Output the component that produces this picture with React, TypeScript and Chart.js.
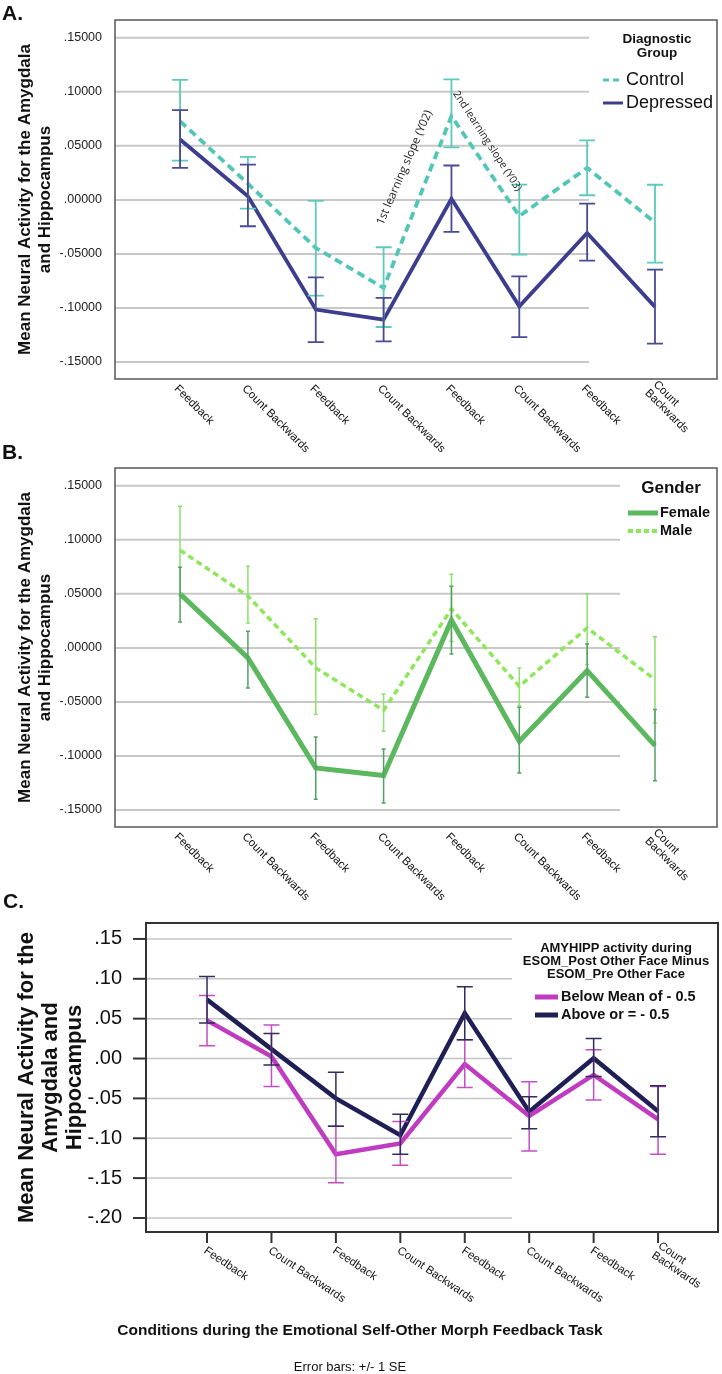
import React, { useEffect, useRef } from "react";
import { Chart, registerables } from "chart.js";

Chart.register(...registerables);

// ---------------- data ----------------
const xLabels: string[][] = [
  ["Feedback"],
  ["Count Backwards"],
  ["Feedback"],
  ["Count Backwards"],
  ["Feedback"],
  ["Count Backwards"],
  ["Feedback"],
  ["Count", "Backwards"],
];

const yTicksAB = [-0.15, -0.1, -0.05, 0, 0.05, 0.1, 0.15];
const yTicksC = [-0.2, -0.15, -0.1, -0.05, 0, 0.05, 0.1, 0.15];

// Panel A – Diagnostic Group
const controlMean = [0.0728, 0.015, -0.0444, -0.0815, 0.0775, -0.015, 0.0296, -0.021];
const controlHi = [0.111, 0.0398, -0.001, -0.0438, 0.1114, 0.0142, 0.055, 0.014];
const controlLo = [0.0364, -0.008, -0.0886, -0.1176, 0.0485, -0.0506, 0.0043, -0.058];
const depressedMean = [0.0559, 0.0034, -0.1015, -0.1108, 0.001, -0.0985, -0.0306, -0.099];
const depressedHi = [0.083, 0.0327, -0.0716, -0.0907, 0.0318, -0.0707, -0.0034, -0.0645];
const depressedLo = [0.0296, -0.0244, -0.1315, -0.1309, -0.0296, -0.1269, -0.0562, -0.133];

// Panel B – Gender
const femaleMean = [0.05, -0.0093, -0.111, -0.118, 0.0256, -0.0864, -0.021, -0.0904];
const femaleHi = [0.0747, 0.0154, -0.0824, -0.0935, 0.057, -0.055, 0.0037, -0.057];
const femaleLo = [0.024, -0.037, -0.14, -0.1435, -0.0056, -0.1157, -0.0457, -0.1228];
const maleMean = [0.0904, 0.048, -0.0185, -0.0577, 0.036, -0.0355, 0.0185, -0.0293];
const maleHi = [0.131, 0.0756, 0.027, -0.0426, 0.068, -0.0185, 0.05, 0.0102];
const maleLo = [0.05, 0.023, -0.0617, -0.0772, 0.006, -0.0535, -0.0154, -0.0694];

// Panel C – AMYHIPP activity groups
const belowMean = [0.0479, 0.0025, -0.12, -0.1066, -0.007, -0.072, -0.0206, -0.0764];
const belowHi = [0.079, 0.042, -0.085, -0.079, 0.0235, -0.029, 0.011, -0.035];
const belowLo = [0.016, -0.035, -0.1557, -0.134, -0.0365, -0.116, -0.052, -0.12];
const aboveMean = [0.0739, 0.0118, -0.05, -0.0962, 0.057, -0.0667, 0.0004, -0.066];
const aboveHi = [0.103, 0.0315, -0.0172, -0.07, 0.09, -0.048, 0.025, -0.034];
const aboveLo = [0.0445, -0.008, -0.085, -0.12, 0.0235, -0.088, -0.0227, -0.098];

// ---------------- styling / layout ----------------
const SANS = '"Liberation Sans", Arial, Helvetica, sans-serif';
const OPEN = '"Open Sans", "Noto Sans", sans-serif';
const W = 722;

const fmt5 = (v: number) => Number(v).toFixed(5).replace(/^(-?)0\./, "$1.");
const fmt2 = (v: number) => Number(v).toFixed(2).replace(/^(-?)0\./, "$1.");

type Series = {
  label: string;
  mean: number[];
  hi: number[];
  lo: number[];
  color: string;
  width: number;
  dash?: number[];
  errColor: string;
  errWidth: number;
  legendWidth: number;
  legendDash?: number[];
};

type Panel = any;

const panels: Panel[] = [
  {
    top: 0,
    height: 470,
    box: { l: 115, t: 20, r: 717, b: 379 },
    xMin: -0.959,
    xMax: 7.914,
    yMin: -0.1657,
    yMax: 0.1664,
    yTicks: yTicksAB,
    fmt: fmt5,
    tickFont: { family: SANS, size: 12.5 },
    tickColor: "#222",
    tickPad: 5,
    yTickLen: 0,
    xTickLen: 0,
    yTitle: ["Mean Neural Activity for the Amygdala", "and Hippocampus"],
    yTitleFont: { family: SANS, size: 17, weight: "bold", lineHeight: 20 / 17 },
    yTitlePad: 15,
    gridEnd: 589,
    gridColor: "#c8c8c8",
    gridWidth: 2,
    boxColor: "#555",
    boxWidth: 1.5,
    cap: 8,
    lbl: { font: "11.5px " + SANS, angle: 45, dx: -4, dy: 8, lh: 12 },
    tag: { text: "A.", x: 2, y: 14, font: "bold 21px " + SANS },
    legend: {
      title: ["Diagnostic", "Group"],
      titleFont: "bold 13.5px " + SANS,
      titleX: 657,
      titleY: 39,
      titleLH: 14,
      itemY: [80, 103],
      sx1: 603,
      sx2: 623,
      tx: 626,
      itemFont: "18px " + SANS,
    },
    notes: [
      { text: "1st learning slope (Y02)", xv: 2.99, yv: -0.024, angle: -66.6, font: "11.5px " + OPEN },
      { text: "2nd learning slope (Y03)", xv: 4.02, yv: 0.0985, angle: 57, font: "10.5px " + OPEN },
    ],
    footer: [],
    series: [
      {
        label: "Control",
        mean: controlMean, hi: controlHi, lo: controlLo,
        color: "#52c6b6", width: 3.8, dash: [8, 5],
        errColor: "#5ccabc", errWidth: 1.8,
        legendWidth: 3, legendDash: [6, 4],
      },
      {
        label: "Depressed",
        mean: depressedMean, hi: depressedHi, lo: depressedLo,
        color: "#3d3d8e", width: 3.8,
        errColor: "#4a4a95", errWidth: 1.8,
        legendWidth: 3,
      },
    ] as Series[],
  },
  {
    top: 440,
    height: 470,
    box: { l: 115, t: 468, r: 717, b: 827 },
    xMin: -0.959,
    xMax: 7.914,
    yMin: -0.1657,
    yMax: 0.1664,
    yTicks: yTicksAB,
    fmt: fmt5,
    tickFont: { family: SANS, size: 12.5 },
    tickColor: "#222",
    tickPad: 5,
    yTickLen: 0,
    xTickLen: 0,
    yTitle: ["Mean Neural Activity for the Amygdala", "and Hippocampus"],
    yTitleFont: { family: SANS, size: 17, weight: "bold", lineHeight: 20 / 17 },
    yTitlePad: 15,
    gridEnd: 620,
    gridColor: "#c8c8c8",
    gridWidth: 2,
    boxColor: "#555",
    boxWidth: 1.5,
    cap: 2,
    lbl: { font: "11.5px " + SANS, angle: 45, dx: -4, dy: 8, lh: 12 },
    tag: { text: "B.", x: 2, y: 453, font: "bold 21px " + SANS },
    legend: {
      title: ["Gender"],
      titleFont: "bold 17px " + SANS,
      titleX: 671,
      titleY: 488,
      titleLH: 18,
      itemY: [513, 531],
      sx1: 628,
      sx2: 658,
      tx: 660,
      itemFont: "bold 14.5px " + SANS,
    },
    notes: [],
    footer: [],
    series: [
      {
        label: "Male",
        mean: maleMean, hi: maleHi, lo: maleLo,
        color: "#8ee65a", width: 3.5, dash: [6, 4],
        errColor: "#8ee070", errWidth: 1.5,
        legendWidth: 4, legendDash: [5, 3],
      },
      {
        label: "Female",
        mean: femaleMean, hi: femaleHi, lo: femaleLo,
        color: "#5cb85f", width: 5,
        errColor: "#55a065", errWidth: 1.5,
        legendWidth: 5,
      },
    ] as Series[],
    legendOrder: [1, 0],
  },
  {
    top: 880,
    height: 494,
    box: { l: 146, t: 923, r: 718, b: 1232 },
    xMin: -0.947,
    xMax: 7.93,
    yMin: -0.2176,
    yMax: 0.17,
    yTicks: yTicksC,
    fmt: fmt2,
    tickFont: { family: SANS, size: 20 },
    tickColor: "#111",
    tickPad: 16,
    yTickLen: 13,
    xTickLen: 11,
    yTitle: ["Mean Neural Activity for the", "Amygdala and", "Hippocampus"],
    yTitleFont: { family: SANS, size: 22, weight: "bold", lineHeight: 24 / 22 },
    yTitlePad: 15,
    gridEnd: 512,
    gridColor: "#c4c4c4",
    gridWidth: 1.5,
    boxColor: "#333",
    boxWidth: 2,
    cap: 8,
    lbl: { font: "11.5px " + SANS, angle: 34, dx: -2, dy: 17.6, lh: 11.5 },
    tag: { text: "C.", x: 3, y: 902, font: "bold 21px " + SANS },
    legend: {
      title: ["AMYHIPP activity during", "ESOM_Post Other Face Minus", "ESOM_Pre Other Face"],
      titleFont: "bold 13px " + SANS,
      titleX: 616,
      titleY: 948,
      titleLH: 13,
      itemY: [997, 1015],
      sx1: 535,
      sx2: 558,
      tx: 561,
      itemFont: "bold 14.5px " + SANS,
    },
    notes: [],
    footer: [
      { text: "Conditions during the Emotional Self-Other Morph Feedback Task", x: 360, y: 1331, font: "bold 15.5px " + SANS },
      { text: "Error bars: +/- 1 SE", x: 350, y: 1367, font: "13px " + SANS },
    ],
    series: [
      {
        label: "Below Mean of - 0.5",
        mean: belowMean, hi: belowHi, lo: belowLo,
        color: "#c13bc1", width: 4.5,
        errColor: "#c44fc4", errWidth: 1.5,
        legendWidth: 5,
      },
      {
        label: "Above or = - 0.5",
        mean: aboveMean, hi: aboveHi, lo: aboveLo,
        color: "#1f1f56", width: 4.5,
        errColor: "#2d2d5e", errWidth: 1.5,
        legendWidth: 5,
      },
    ] as Series[],
  },
];

function makeDecor(p: Panel) {
  const off = p.top;
  return {
    id: "decor",
    beforeDatasetsDraw(chart: any) {
      const { ctx, chartArea: a } = chart;
      const y = chart.scales.y;
      ctx.save();
      ctx.strokeStyle = p.gridColor;
      ctx.lineWidth = p.gridWidth;
      for (const v of p.yTicks) {
        const py = y.getPixelForValue(v);
        ctx.beginPath();
        ctx.moveTo(a.left, py);
        ctx.lineTo(p.gridEnd, py);
        ctx.stroke();
      }
      ctx.restore();
    },
    afterDatasetsDraw(chart: any) {
      const { ctx } = chart;
      const x = chart.scales.x;
      const y = chart.scales.y;
      ctx.save();
      ctx.setLineDash([]);
      p.series.forEach((s: Series) => {
        ctx.strokeStyle = s.errColor;
        ctx.lineWidth = s.errWidth;
        s.hi.forEach((h, i) => {
          const px = x.getPixelForValue(i);
          const y1 = y.getPixelForValue(h);
          const y2 = y.getPixelForValue(s.lo[i]);
          ctx.beginPath();
          ctx.moveTo(px, y1);
          ctx.lineTo(px, y2);
          ctx.moveTo(px - p.cap, y1);
          ctx.lineTo(px + p.cap, y1);
          ctx.moveTo(px - p.cap, y2);
          ctx.lineTo(px + p.cap, y2);
          ctx.stroke();
        });
      });
      ctx.restore();
    },
    afterDraw(chart: any) {
      const { ctx, chartArea: a } = chart;
      const x = chart.scales.x;
      const y = chart.scales.y;
      ctx.save();
      // frame
      ctx.strokeStyle = p.boxColor;
      ctx.lineWidth = p.boxWidth;
      ctx.strokeRect(a.left, a.top, a.right - a.left, a.bottom - a.top);
      // tick marks
      ctx.strokeStyle = "#333";
      ctx.lineWidth = 2;
      if (p.yTickLen) {
        for (const v of p.yTicks) {
          const py = y.getPixelForValue(v);
          ctx.beginPath();
          ctx.moveTo(a.left - p.yTickLen, py);
          ctx.lineTo(a.left, py);
          ctx.stroke();
        }
      }
      if (p.xTickLen) {
        xLabels.forEach((_, i) => {
          const px = x.getPixelForValue(i);
          ctx.beginPath();
          ctx.moveTo(px, a.bottom);
          ctx.lineTo(px, a.bottom + p.xTickLen);
          ctx.stroke();
        });
      }
      // category labels
      ctx.fillStyle = "#111";
      ctx.font = p.lbl.font;
      ctx.textAlign = "left";
      ctx.textBaseline = "middle";
      xLabels.forEach((lines, i) => {
        const px = x.getPixelForValue(i);
        ctx.save();
        ctx.translate(px + p.lbl.dx, a.bottom + p.lbl.dy);
        ctx.rotate((p.lbl.angle * Math.PI) / 180);
        const n = lines.length;
        lines.forEach((ln, k) => {
          ctx.fillText(ln, 0, (k - (n - 1) / 2) * p.lbl.lh);
        });
        ctx.restore();
      });
      // legend
      const L = p.legend;
      ctx.fillStyle = "#111";
      ctx.textAlign = "center";
      ctx.textBaseline = "middle";
      ctx.font = L.titleFont;
      L.title.forEach((t: string, k: number) => {
        ctx.fillText(t, L.titleX, L.titleY - off + k * L.titleLH);
      });
      const order: number[] = p.legendOrder || p.series.map((_: any, i: number) => i);
      order.forEach((si, k) => {
        const s: Series = p.series[si];
        const iy = L.itemY[k] - off;
        ctx.strokeStyle = s.color;
        ctx.lineWidth = s.legendWidth;
        ctx.setLineDash(s.legendDash || []);
        ctx.beginPath();
        ctx.moveTo(L.sx1, iy);
        ctx.lineTo(L.sx2, iy);
        ctx.stroke();
        ctx.setLineDash([]);
        ctx.font = L.itemFont;
        ctx.textAlign = "left";
        ctx.fillText(s.label, L.tx, iy);
      });
      // panel tag
      ctx.font = p.tag.font;
      ctx.textAlign = "left";
      ctx.textBaseline = "middle";
      ctx.fillText(p.tag.text, p.tag.x, p.tag.y - off);
      // annotations
      p.notes.forEach((nt: any) => {
        ctx.save();
        ctx.font = nt.font;
        ctx.fillStyle = "#222";
        ctx.textAlign = "left";
        ctx.textBaseline = "alphabetic";
        ctx.translate(x.getPixelForValue(nt.xv), y.getPixelForValue(nt.yv));
        ctx.rotate((nt.angle * Math.PI) / 180);
        ctx.fillText(nt.text, 0, 0);
        ctx.restore();
      });
      // footer
      p.footer.forEach((f: any) => {
        ctx.font = f.font;
        ctx.fillStyle = "#111";
        ctx.textAlign = "center";
        ctx.textBaseline = "middle";
        ctx.fillText(f.text, f.x, f.y - off);
      });
      ctx.restore();
    },
  };
}

function buildConfig(p: Panel): any {
  return {
    type: "line",
    data: {
      datasets: p.series.map((s: Series) => ({
        label: s.label,
        data: s.mean.map((v, i) => ({ x: i, y: v })),
        borderColor: s.color,
        backgroundColor: s.color,
        borderWidth: s.width,
        borderDash: s.dash || [],
        borderCapStyle: "butt",
        borderJoinStyle: "miter",
        pointRadius: 0,
        fill: false,
        tension: 0,
      })),
    },
    options: {
      responsive: false,
      animation: false,
      devicePixelRatio: 1,
      layout: {
        padding: {
          top: p.box.t - p.top,
          right: W - p.box.r,
          bottom: p.top + p.height - p.box.b,
          left: 0,
        },
      },
      scales: {
        x: { type: "linear", display: false, min: p.xMin, max: p.xMax },
        y: {
          type: "linear",
          min: p.yMin,
          max: p.yMax,
          afterFit: (s: any) => {
            s.width = p.box.l;
          },
          afterBuildTicks: (s: any) => {
            s.ticks = p.yTicks.map((v: number) => ({ value: v }));
          },
          grid: { display: false },
          border: { display: false },
          ticks: {
            callback: (v: number) => p.fmt(v),
            font: p.tickFont,
            color: p.tickColor,
            padding: p.tickPad,
          },
          title: {
            display: true,
            text: p.yTitle,
            font: p.yTitleFont,
            color: "#111",
            padding: { top: p.yTitlePad, bottom: 0 },
          },
        },
      },
      plugins: {
        legend: { display: false },
        tooltip: { enabled: false },
      },
    },
    plugins: [makeDecor(p)],
  };
}

function PanelChart({ p }: { p: Panel }) {
  const ref = useRef<HTMLCanvasElement>(null);
  useEffect(() => {
    const chart = new Chart(ref.current as HTMLCanvasElement, buildConfig(p));
    return () => chart.destroy();
  }, [p]);
  return (
    <canvas
      ref={ref}
      width={W}
      height={p.height}
      style={{ position: "absolute", left: 0, top: p.top, width: W, height: p.height }}
    />
  );
}

export default function App() {
  return (
    <div
      style={{
        position: "absolute",
        left: 0,
        top: 0,
        width: W,
        height: 1374,
        background: "#fff",
        overflow: "hidden",
      }}
    >
      {panels.map((p, i) => (
        <PanelChart key={i} p={p} />
      ))}
    </div>
  );
}
